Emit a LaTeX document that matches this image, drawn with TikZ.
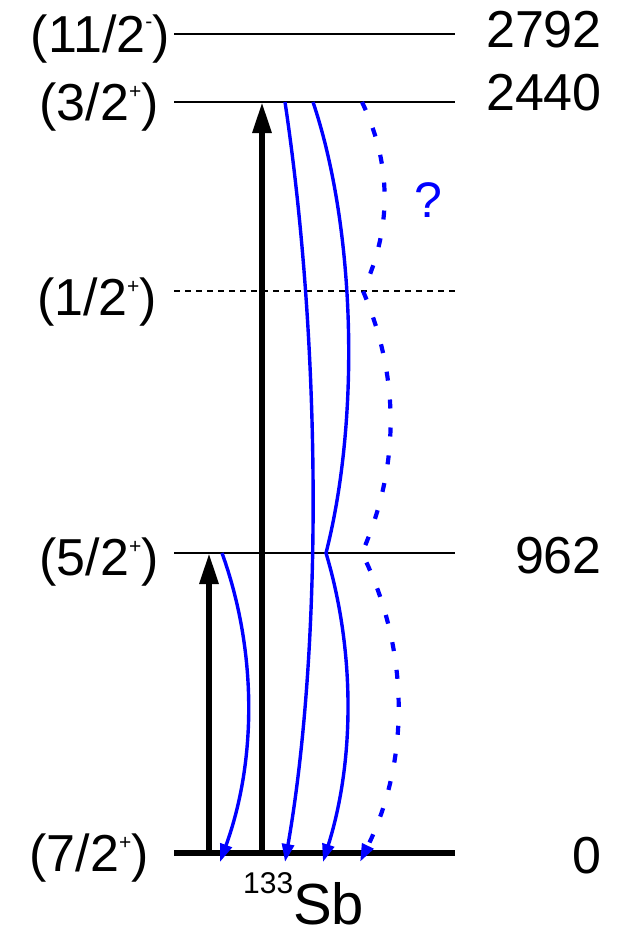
\documentclass[tikz,border=0pt]{standalone}
\usepackage{fontspec}
\setmainfont{Liberation Sans}
\usetikzlibrary{arrows.meta}
\newcommand\spsup[2][22pt]{\raisebox{#1}{\fontsize{21}{21}\selectfont #2}}
\begin{document}
\begin{tikzpicture}[x=1pt,y=-1pt,
  lvl/.style={line width=2pt},
  lvlgs/.style={line width=6.5pt},
  lvldash/.style={line width=1.6pt, dash pattern=on 6pt off 5pt},
  lbl/.style={font=\fontsize{52}{60}\selectfont, inner sep=0pt},
  uparrow/.style={line width=6pt, -{Triangle[length=31pt,width=18pt]}},
  gam/.style={blue, line width=3.4pt, -{Triangle[length=18pt,width=12pt]}},
  gamdash/.style={gam, line width=4.2pt, dash pattern=on 9pt off 19pt},
]
\useasboundingbox (0,0) rectangle (621,937);

% level end points
\coordinate (a2792) at (174,34);  \coordinate (b2792) at (455,34);
\coordinate (a2440) at (174,102); \coordinate (b2440) at (455,102);
\coordinate (ahalf) at (174,291); \coordinate (bhalf) at (455,291);
\coordinate (a962)  at (174,553); \coordinate (b962)  at (455,553);
\coordinate (a0)    at (174,853); \coordinate (b0)    at (455,853);

\draw[lvl] (a2792) -- (b2792);
\draw[lvl] (a2440) -- (b2440);
\draw[lvldash] (ahalf) -- (bhalf);
\draw[lvl] (a962) -- (b962);
\draw[lvlgs] (a0) -- (b0);

% left labels
\node[lbl, anchor=base east] (j2792) at (170,52)  {(11/2\spsup[24pt]{-})};
\node[lbl, anchor=base east] (j2440) at (159,120) {(3/2\spsup{+})};
\node[lbl, anchor=base east] (jhalf) at (157,315) {(1/2\spsup{+})};
\node[lbl, anchor=base east] (j962)  at (159,575) {(5/2\spsup{+})};
\node[lbl, anchor=base east] (j0)    at (149,871) {(7/2\spsup{+})};

% right labels
\node[lbl, anchor=base east] (e2792) at (602,47)  {2792};
\node[lbl, anchor=base east] (e2440) at (602,110) {2440};
\node[lbl, anchor=base east] (e962)  at (602,573) {962};
\node[lbl, anchor=base east] (e0)    at (602,873) {0};

% excitations
\coordinate (x1s) at (209,853); \coordinate (x1e) at (209,553);
\coordinate (x2s) at (262,853); \coordinate (x2e) at (262,102);
\draw[uparrow] (x1s) -- (x1e);
\draw[uparrow] (x2s) -- (x2e);

% gamma transitions
\coordinate (g1s) at (222,553); \coordinate (g1e) at (220,862);
\draw[gam] (g1s) .. controls (257,650) and (257,760) .. (g1e);

\coordinate (g2s) at (285,102); \coordinate (g2e) at (285,862);
\draw[gam] (g2s) .. controls (322,350) and (322,650) .. (g2e);

\coordinate (g3s) at (313,102); \coordinate (g3m) at (326,553); \coordinate (g3e) at (323,862);
\draw[gam] (g3s) .. controls (356,230) and (360,420) .. (g3m)
                 .. controls (355,650) and (355,760) .. (g3e);

\coordinate (g4s) at (362,102); \coordinate (g4a) at (363,291);
\coordinate (g4b) at (362,553); \coordinate (g4e) at (360,862);
\draw[gamdash] (g4s) .. controls (392,165) and (392,228) .. (g4a)
                     .. controls (400,378) and (400,466) .. (g4b)
                     .. controls (410,650) and (410,760) .. (g4e);

\node[lbl, blue, anchor=base, font=\fontsize{50}{60}\selectfont] (q) at (428,217) {?};

\node[inner sep=0pt, anchor=base west] (nuc) at (243,924)
  {\raisebox{31pt}{\fontsize{30}{30}\selectfont 133}\fontsize{58}{62}\selectfont Sb};
\end{tikzpicture}
\end{document}
